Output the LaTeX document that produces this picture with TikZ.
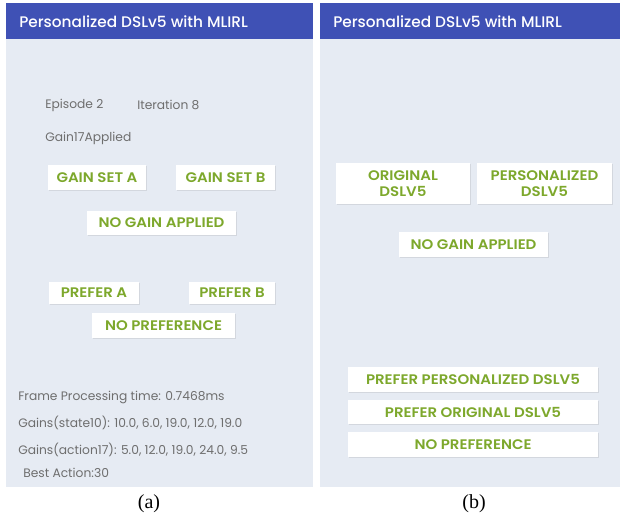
\documentclass[tikz,border=0pt]{standalone}
\usepackage{fontspec}
\setmainfont{Poppins}[BoldFont={Poppins SemiBold}, BoldFeatures={FakeStretch=1.08}]
\newfontfamily\medfont{Poppins Medium}
\newfontfamily\capfont{Liberation Serif}
\usetikzlibrary{shadows}

\definecolor{barblue}{HTML}{3F51B5}
\definecolor{panelbg}{HTML}{E6EBF3}
\definecolor{btngreen}{HTML}{7DA82C}
\definecolor{infogray}{HTML}{6E6E6E}

\begin{document}
\begin{tikzpicture}[x=0.75pt, y=-0.75pt,
                btn/.style 2 args={rectangle, fill=white, draw=none, align=center, inner sep=0pt,
                    minimum width=0.75pt*#1, minimum height=0.75pt*#2,
                    text=btngreen, font=\fontsize{10.4}{12.5}\selectfont\bfseries,
                    drop shadow={opacity=0.18, shadow xshift=0.4pt, shadow yshift=-0.8pt}},
                info/.style={anchor=west, inner sep=0pt, text=infogray, font=\fontsize{9.2}{10}\selectfont},
                title/.style={anchor=west, inner sep=0pt, text=white, font=\medfont\fontsize{11.5}{13}\selectfont},
                caption/.style={inner sep=0pt, font=\capfont\fontsize{15}{17}\selectfont}
            ]
            \useasboundingbox (0,0) rectangle (621,521);
            \fill[white] (0,0) rectangle (621,521);

            % Panel backgrounds and header bars
            \fill[panelbg] (6,3) rectangle (313,487);
            \fill[panelbg] (320,3) rectangle (620,487);
            \fill[barblue] (6,3) rectangle (313,39);
            \fill[barblue] (320,3) rectangle (620,39);
            \node[title] (titleA) at (19,22) {Personalized DSLv5 with MLIRL};
            \node[title] (titleB) at (333,22) {Personalized DSLv5 with MLIRL};

            % Left panel: status texts
            \node[info] (episode) at (45,105) {Episode 2};
            \node[info] (iteration) at (137,105) {Iteration 8};
            \node[info] (applied) at (45,138) {Gain17Applied};

            % Left panel: buttons
            \node[btn={98}{25}] (gainA) at (97,177.5) {GAIN SET A};
            \node[btn={99}{25}] (gainB) at (225.5,177.5) {GAIN SET B};
            \node[btn={149}{24}] (noGain) at (161.5,223) {NO GAIN APPLIED};
            \node[btn={90}{22}] (preferA) at (94,293) {PREFER A};
            \node[btn={86}{22}] (preferB) at (232,293) {PREFER B};
            \node[btn={143}{25}] (noPref) at (163.5,325.5) {NO PREFERENCE};

            % Left panel: gains
            \node[info] (frametime) at (18,397) {Frame Processing time: 0.7468ms};
            \node[info] (gainState) at (18,423) {Gains(state10): 10.0, 6.0, 19.0, 12.0, 19.0};
            \node[info] (gainAction) at (18,450) {Gains(action17): 5.0, 12.0, 19.0, 24.0, 9.5};
            \node[info] (bestAction) at (23,473) {Best Action:30};

            % Right panel: buttons
            \node[btn={134}{41}] (origBtn) at (403,183.5) {ORIGINAL\\DSLV5};
            \node[btn={135}{41}] (persBtn) at (544.5,183.5) {PERSONALIZED\\DSLV5};
            \node[btn={149}{25}] (noGainB) at (473.5,244.5) {NO GAIN APPLIED};
            \node[btn={250}{25}] (preferPers) at (473,379.5) {PREFER PERSONALIZED DSLV5};
            \node[btn={250}{24}] (preferOrig) at (473,412) {PREFER ORIGINAL DSLV5};
            \node[btn={250}{25}] (noPrefB) at (473,444.5) {NO PREFERENCE};

            % Captions
            \node[caption] (capA) at (149,504) {(a)};
            \node[caption] (capB) at (474,504) {(b)};

        \end{tikzpicture}
\end{document}
